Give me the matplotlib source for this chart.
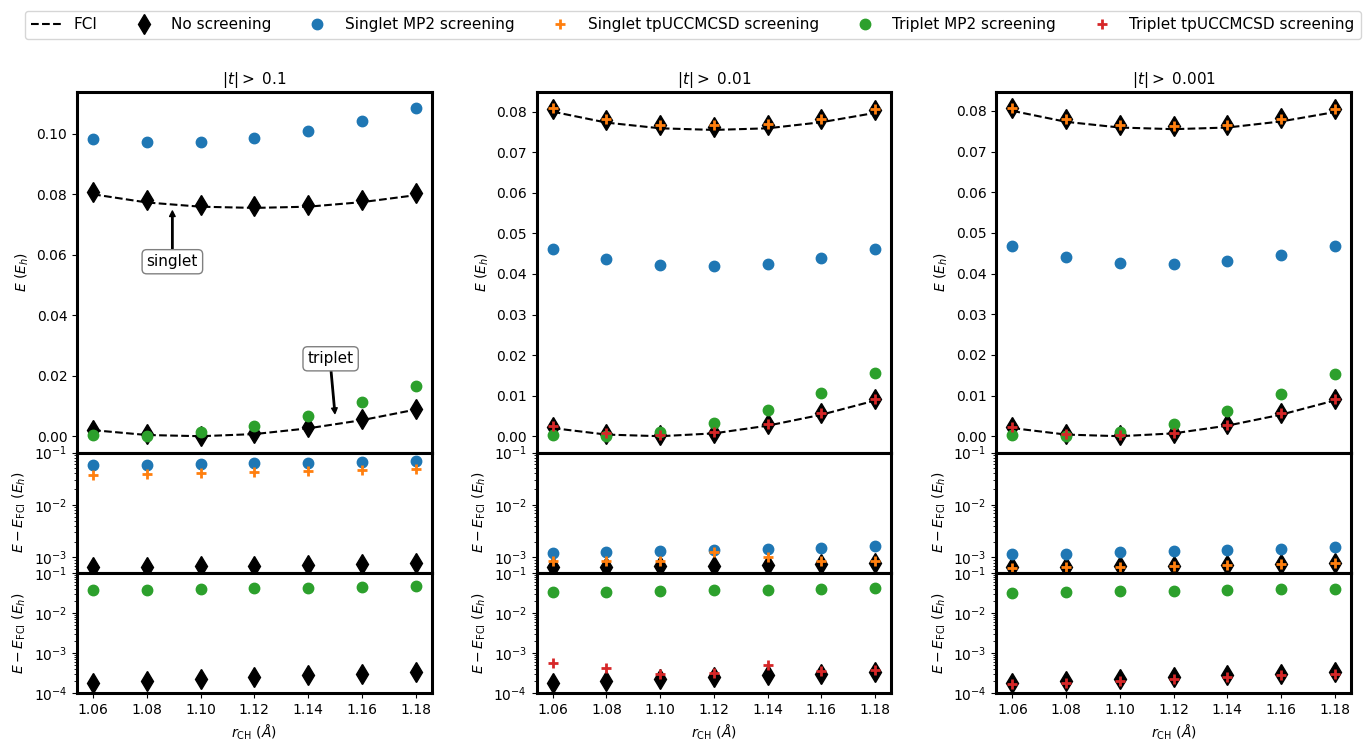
import matplotlib
matplotlib.use('Agg')
import matplotlib.pyplot as plt

# bond lengths (Angstrom)
r_ch = [1.06, 1.08, 1.10, 1.12, 1.14, 1.16, 1.18]
thresholds = ['0.1', '0.01', '0.001']

# energies for upper panels (Eh)
fci_singlet = [0.0800, 0.0773, 0.0759, 0.0755, 0.0759, 0.0774, 0.0797]
fci_triplet = [0.0020, 0.0004, 0.0000, 0.0007, 0.0026, 0.0053, 0.0088]
noscr_singlet = [0.0806, 0.0780, 0.0766, 0.0762, 0.0766, 0.0782, 0.0805]
noscr_triplet = [0.0022, 0.0006, 0.0002, 0.0009, 0.0029, 0.0056, 0.0091]

mp2_singlet = [[0.0984, 0.0973, 0.0974, 0.0986, 0.1010, 0.1043, 0.1084],
               [0.0461, 0.0436, 0.0422, 0.0419, 0.0425, 0.0439, 0.0461],
               [0.0467, 0.0441, 0.0427, 0.0424, 0.0430, 0.0445, 0.0467]]
mp2_triplet = [[0.0003, 0.0000, 0.0013, 0.0035, 0.0068, 0.0113, 0.0165],
               [0.0004, 0.0000, 0.0010, 0.0033, 0.0064, 0.0106, 0.0157],
               [0.0004, 0.0000, 0.0010, 0.0031, 0.0063, 0.0105, 0.0154]]
tpucc_singlet = [None,
                 [0.0808, 0.0781, 0.0767, 0.0768, 0.0769, 0.0783, 0.0806],
                 [0.0806, 0.0779, 0.0766, 0.0762, 0.0766, 0.0781, 0.0805]]
tpucc_triplet = [None,
                 [0.0026, 0.0008, 0.0003, 0.0010, 0.0031, 0.0057, 0.0092],
                 [0.0022, 0.0006, 0.0002, 0.0009, 0.0028, 0.0056, 0.0091]]

# errors vs FCI (Eh)
err_noscr_singlet = [6.5e-4, 6.6e-4, 6.8e-4, 7.0e-4, 7.2e-4, 7.6e-4, 7.8e-4]
err_noscr_triplet = [1.80e-4, 1.98e-4, 2.22e-4, 2.49e-4, 2.74e-4, 3.0e-4, 3.3e-4]
err_mp2_singlet = [[0.0573, 0.0582, 0.0608, 0.0626, 0.0644, 0.0663, 0.0683],
                   [1.21e-3, 1.26e-3, 1.31e-3, 1.37e-3, 1.45e-3, 1.52e-3, 1.62e-3],
                   [1.14e-3, 1.19e-3, 1.26e-3, 1.33e-3, 1.40e-3, 1.47e-3, 1.56e-3]]
err_tpucc_singlet = [[0.0369, 0.0391, 0.0409, 0.0427, 0.0446, 0.0473, 0.0495],
                     [8.4e-4, 8.4e-4, 8.4e-4, 1.26e-3, 1.03e-3, 8.6e-4, 8.6e-4],
                     [6.3e-4, 6.5e-4, 6.7e-4, 7.0e-4, 7.2e-4, 7.6e-4, 7.9e-4]]
err_mp2_triplet = [[0.0365, 0.0378, 0.0393, 0.0409, 0.0425, 0.0442, 0.0459],
                   [0.0325, 0.0338, 0.0351, 0.0365, 0.0378, 0.0393, 0.0409],
                   [0.0319, 0.0332, 0.0345, 0.0358, 0.0372, 0.0386, 0.0401]]
err_tpucc_triplet = [None,
                     [5.65e-4, 4.3e-4, 3.0e-4, 3.1e-4, 4.95e-4, 3.5e-4, 3.8e-4],
                     [1.63e-4, 1.82e-4, 1.98e-4, 2.25e-4, 2.49e-4, 2.84e-4, 3.0e-4]]

plt.rcParams['font.size'] = 10
plt.rcParams['axes.linewidth'] = 2.2

dia = dict(marker='d', ms=10, color='k', ls='none', label='No screening')
mp2_s = dict(marker='o', ms=7.5, color='C0', ls='none', label='Singlet MP2 screening')
tp_s = dict(marker='+', ms=7, mew=2, color='C1', ls='none', label='Singlet tpUCCMCSD screening')
mp2_t = dict(marker='o', ms=7.5, color='C2', ls='none', label='Triplet MP2 screening')
tp_t = dict(marker='+', ms=7, mew=2, color='C3', ls='none', label='Triplet tpUCCMCSD screening')

fig = plt.figure(figsize=(13.65, 7.41), dpi=100)
gs = fig.add_gridspec(3, 3, height_ratios=[3, 1, 1], hspace=0, wspace=0.296,
                      left=0.0564, right=0.9897, top=0.8758, bottom=0.0648)

handles = None
for j in range(3):
    ax0 = fig.add_subplot(gs[0, j])
    ax1 = fig.add_subplot(gs[1, j], sharex=ax0)
    ax2 = fig.add_subplot(gs[2, j], sharex=ax0)

    # energies
    ax0.plot(r_ch, fci_singlet, 'k--', lw=1.5, label='FCI')
    ax0.plot(r_ch, fci_triplet, 'k--', lw=1.5)
    ax0.plot(r_ch, noscr_singlet, **dia)
    ax0.plot(r_ch, noscr_triplet, marker='d', ms=10, color='k', ls='none')
    ax0.plot(r_ch, mp2_singlet[j], **mp2_s)
    if tpucc_singlet[j] is not None:
        ax0.plot(r_ch, tpucc_singlet[j], **tp_s)
    ax0.plot(r_ch, mp2_triplet[j], **mp2_t)
    if tpucc_triplet[j] is not None:
        ax0.plot(r_ch, tpucc_triplet[j], **tp_t)
    ax0.set_title(r'$|t|>$ ' + thresholds[j], fontsize=11)
    ax0.set_ylabel(r'$E$ ($E_h$)')
    if j == 1:
        handles, labels = ax0.get_legend_handles_labels()

    # singlet errors
    ax1.plot(r_ch, err_noscr_singlet, **dia)
    ax1.plot(r_ch, err_mp2_singlet[j], **mp2_s)
    ax1.plot(r_ch, err_tpucc_singlet[j], **tp_s)
    ax1.set_yscale('log')
    ax1.set_ylim(5.1e-4, 1e-1)
    ax1.set_ylabel(r'$E - E_{\rm FCI}$ ($E_h$)')

    # triplet errors
    ax2.plot(r_ch, err_noscr_triplet, **dia)
    ax2.plot(r_ch, err_mp2_triplet[j], **mp2_t)
    if err_tpucc_triplet[j] is not None:
        ax2.plot(r_ch, err_tpucc_triplet[j], **tp_t)
    ax2.set_yscale('log')
    ax2.set_ylim(1e-4, 1e-1)
    ax2.set_ylabel(r'$E - E_{\rm FCI}$ ($E_h$)')
    ax2.set_xlabel(r'$r_{\rm CH}$ ($\AA$)')
    ax2.set_xticks(r_ch)
    ax2.set_xticklabels(['%.2f' % r for r in r_ch])

    for a in (ax0, ax1):
        a.tick_params(axis='x', bottom=False, labelbottom=False)

    if j == 0:
        ax0.annotate('singlet', xy=(1.0895, 0.0745), xytext=(1.0895, 0.0577),
                     ha='center', va='center', fontsize=11,
                     bbox=dict(boxstyle='round', fc='white', ec='gray'),
                     arrowprops=dict(facecolor='black', width=1, headwidth=4,
                                     headlength=4, shrink=0.0))
        ax0.annotate('triplet', xy=(1.150, 0.0075), xytext=(1.1484, 0.0256),
                     ha='center', va='center', fontsize=11,
                     bbox=dict(boxstyle='round', fc='white', ec='gray'),
                     arrowprops=dict(facecolor='black', width=1, headwidth=4,
                                     headlength=4, shrink=0.0))

fig.legend(handles, labels, loc='upper center', ncol=6, fontsize=11,
           bbox_to_anchor=(0.5075, 0.995))

fig.savefig('out.png', dpi=100)
